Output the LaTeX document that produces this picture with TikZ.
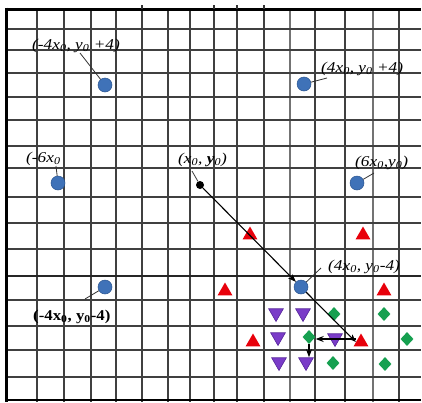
\documentclass[tikz,border=0pt]{standalone}
\usepackage{fontspec}
\setmainfont{Liberation Serif}
\usetikzlibrary{shapes.geometric,arrows.meta}
\definecolor{dotblue}{HTML}{3F72B8}
\definecolor{dotedge}{HTML}{2B5590}
\definecolor{tri}{HTML}{E8000B}
\definecolor{purp}{HTML}{7A3CC8}
\definecolor{purpedge}{HTML}{55249A}
\definecolor{grn}{HTML}{16A050}
\tikzset{
  gridline/.style={draw=black!75,line width=1.4pt},
  dotb/.style={circle,fill=dotblue,draw=dotedge,line width=0.5pt,minimum size=14pt,inner sep=0pt},
  dotk/.style={circle,fill=black,minimum size=8pt,inner sep=0pt},
  uptri/.style={regular polygon,regular polygon sides=3,fill=tri,minimum size=17pt,inner sep=0pt},
  dntri/.style={regular polygon,regular polygon sides=3,shape border rotate=180,fill=purp,draw=purpedge,line width=0.6pt,minimum size=17pt,inner sep=0pt},
  dia/.style={diamond,fill=grn,minimum width=13pt,minimum height=14pt,inner sep=0pt},
  lab/.style={anchor=base west,inner sep=0pt,font=\itshape\fontsize{15}{15}\selectfont,xscale=1.15},
  labb/.style={anchor=base west,inner sep=0pt,font=\bfseries\fontsize{15}{15}\selectfont,xscale=1.12},
  leader/.style={draw=black!80,line width=0.8pt},
  arr/.style={draw=black,line width=1.1pt,-{Stealth[length=8pt,width=6pt]}}
}
\begin{document}
\begin{tikzpicture}[x=1pt,y=-1pt]
\useasboundingbox (0,0) rectangle (422,402);
\fill[white] (0,0) rectangle (422,402);
\begin{scope}
\clip (0,0) rectangle (421,402);
% grid
\foreach \xx in {37,64,91,116,142,168,190,214,237,264,315,345,399}
  \draw[gridline] (\xx,9) -- (\xx,402);
\foreach \xx in {290,373}
  \draw[draw=black!55,line width=2.2pt] (\xx,9) -- (\xx,402);
\foreach \yy in {29,50,73,97,120,146,168,197,223,249,300,326,350,377}
  \draw[gridline] (6,\yy) -- (421,\yy);
\draw[draw=black!85,line width=1.8pt] (6,276) -- (421,276);
\draw[black,line width=1.8pt] (6,400) -- (421,400);
\draw[black,line width=3pt] (6,9) -- (421,9);
\draw[black,line width=3pt] (6,7.5) -- (6,402);
\end{scope}
\foreach \xx in {142,214,237,264}
  \fill[black!80] (\xx-1.2,4.5) rectangle (\xx+1.2,9);
% blue dots
\node[dotb] (d1) at (105,85) {};
\node[dotb] (d2) at (58,183) {};
\node[dotb] (d4) at (304,84) {};
\node[dotb] (d5) at (357,183) {};
\node[dotb] (d6) at (105,287) {};
\node[dotb] (d7) at (301,287) {};
\node[dotk] (d0) at (200,185) {};
% red triangles
\node[uptri] (r1) at (250,235) {};
\node[uptri] (r2) at (363,235) {};
\node[uptri] (r3) at (225,291) {};
\node[uptri] (r4) at (384,291) {};
\node[uptri] (r5) at (253,342) {};
\node[uptri] (r6) at (361,342) {};
% purple triangles
\node[dntri] (p1) at (276,313) {};
\node[dntri] (p2) at (303,313) {};
\node[dntri] (p3) at (278,337) {};
\node[dntri] (p4) at (335,338) {};
\node[dntri] (p5) at (279,362) {};
\node[dntri] (p6) at (306,362) {};
% green diamonds
\node[dia] (g1) at (334,314) {};
\node[dia] (g2) at (384,314) {};
\node[dia] (g3) at (309,337) {};
\node[dia] (g4) at (407,339) {};
\node[dia] (g5) at (333,363) {};
\node[dia] (g6) at (385,364) {};
% labels
\node[lab] (l1) at (32,49) {(-4x\textsubscript{0}, y\textsubscript{0} +4)};
\node[lab] (l2) at (26,162) {(-6x\textsubscript{0}};
\node[lab] (l0) at (178,163) {(x\textsubscript{0}, \textbf{y}\textsubscript{0})};
\node[lab] (l4) at (321,72) {(4x\textsubscript{0}, y\textsubscript{0} +4)};
\node[lab] (l5) at (355,166) {(6x\textsubscript{0},y\textsubscript{0})};
\node[labb] (l6) at (33,320) {(-4x\textsubscript{0}, y\textsubscript{0}-4)};
\node[lab] (l7) at (328,270) {(4x\textsubscript{0}, y\textsubscript{0}-4)};
% leader lines
\coordinate (c1) at (80,53);
\coordinate (c2) at (56,166);
\coordinate (c0) at (192,171);
\coordinate (c4) at (327,78);
\coordinate (c5) at (374,173);
\coordinate (c6) at (85,299);
\coordinate (c7) at (321,268);
\draw[leader] (c1) -- (d1);
\draw[leader] (c2) -- (d2);
\draw[leader] (c0) -- (d0);
\draw[leader] (c4) -- (d4);
\draw[leader] (c5) -- (d5);
\draw[leader] (c6) -- (d6);
\draw[leader] (c7) -- (d7);
% arrows
\draw[arr] (d0) -- (d7);
\draw[arr] (d7) -- (r6.west);
\draw[arr] (r6.west |- 0,339) -- (g3.east |- 0,339);
\draw[arr] (g3.south) -- ++(0,13);
\end{tikzpicture}
\end{document}
